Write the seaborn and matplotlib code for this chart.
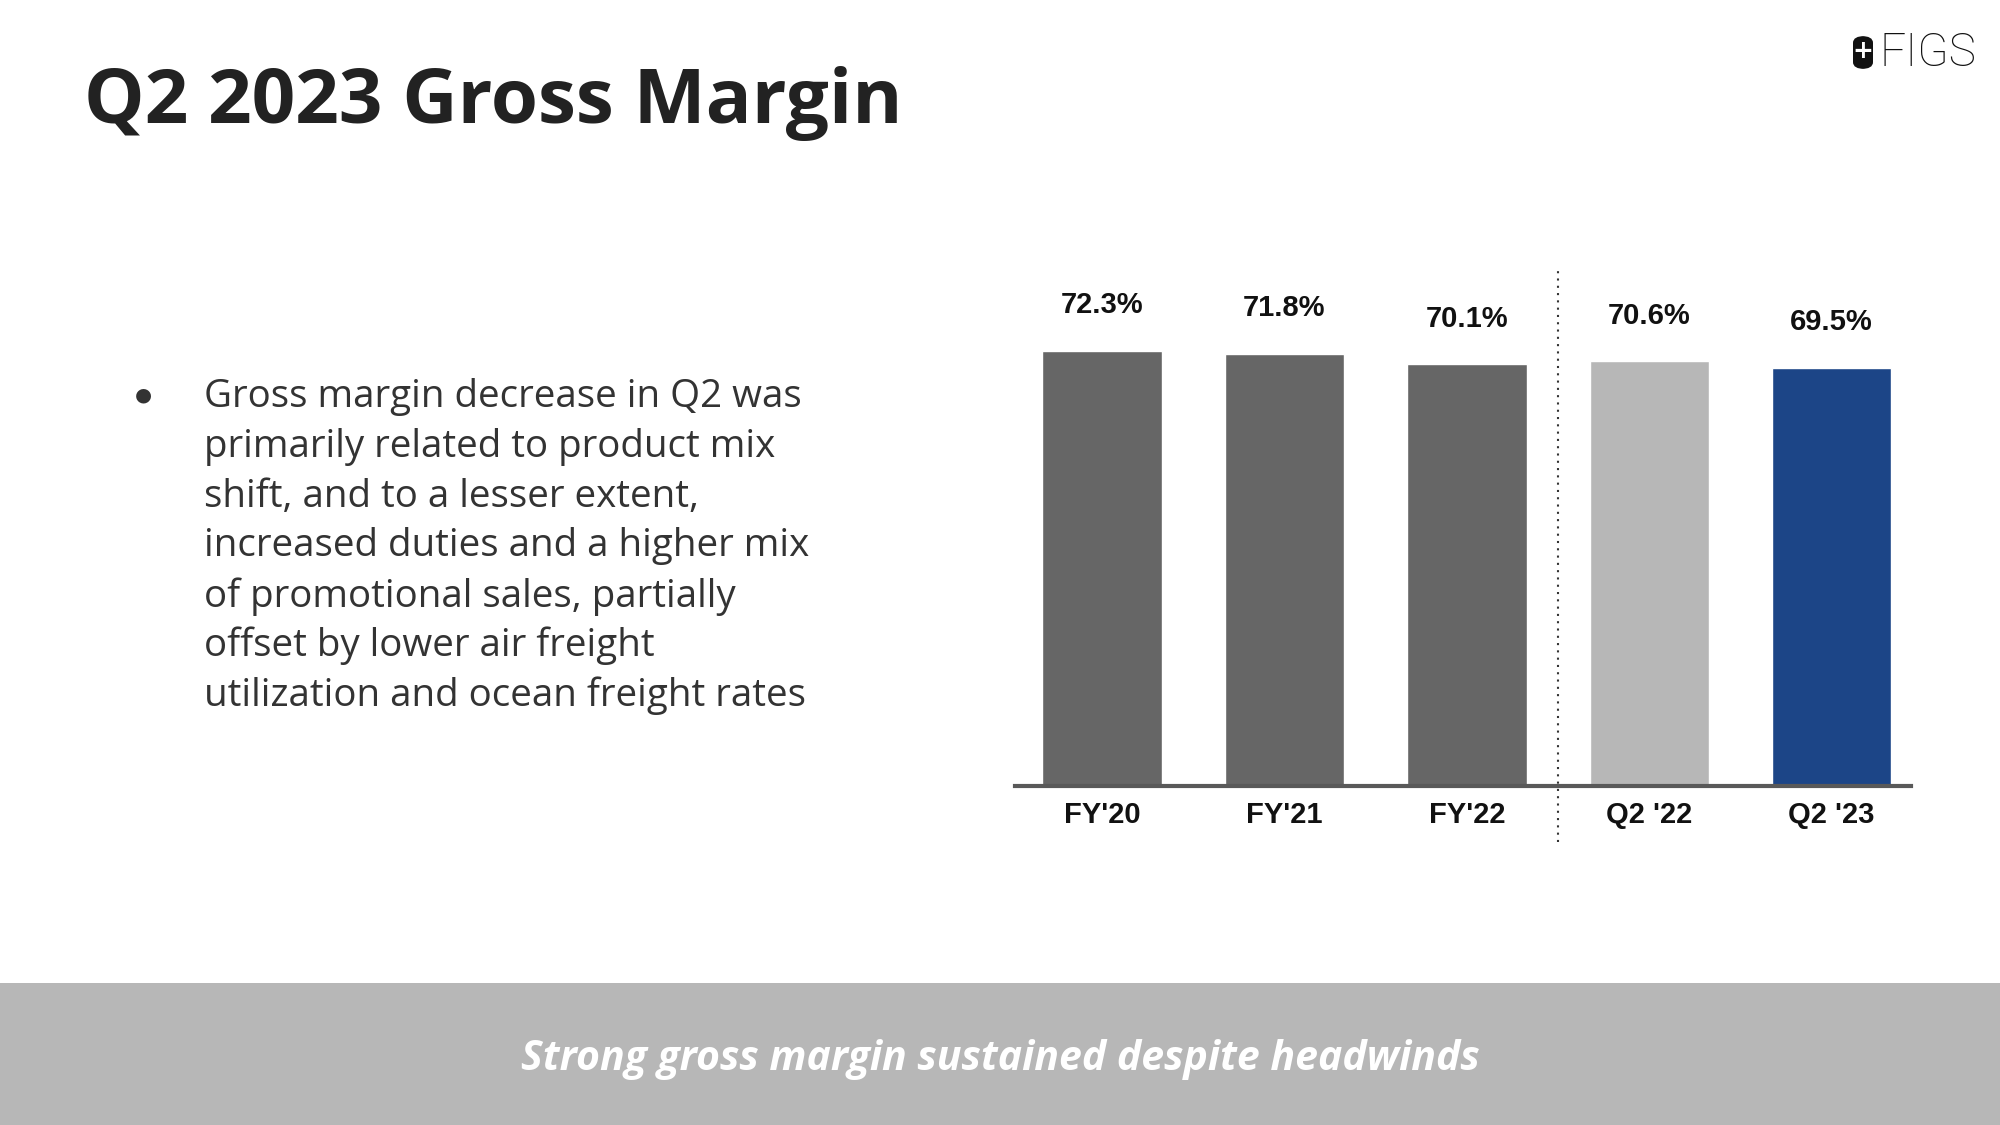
import numpy as np
import pandas as pd
import seaborn as sns
import matplotlib.pyplot as plt
from matplotlib.patches import Rectangle, FancyBboxPatch

######################### Data ###########################
categories = ["FY'20", "FY'21", "FY'22", "Q2 '22", "Q2 '23"]
margins = [72.3, 71.8, 70.1, 70.6, 69.5]
bar_colors = ["#666666", "#666666", "#666666", "#b7b7b7", "#1c4587"]

title = "Q2 2023 Gross Margin"
bullet_lines = [
    "Gross margin decrease in Q2 was",
    "primarily related to product mix",
    "shift, and to a lesser extent,",
    "increased duties and a higher mix",
    "of promotional sales, partially",
    "offset by lower air freight",
    "utilization and ocean freight rates",
]
footer = "Strong gross margin sustained despite headwinds"
##########################################################

sns.set_style("white")
plt.rcParams['font.family'] = ['Liberation Sans', 'DejaVu Sans']

df = pd.DataFrame({"period": categories, "margin": margins})

fig = plt.figure(figsize=(20, 11.25), dpi=100)
ax = fig.add_axes([0.5077, 0.3013, 0.4477, 0.5347])

sns.barplot(
    data=df,
    x="period",
    y="margin",
    hue="period",
    palette=bar_colors,
    width=0.655,
    legend=False,
    saturation=1,
    ax=ax,
)

ax.set_ylim(0, 100)
ax.set_xlim(-0.475, 4.434)
ax.set_xlabel("")
ax.set_ylabel("")
ax.set_yticks([])
for side in ["left", "right", "top"]:
    ax.spines[side].set_visible(False)
ax.spines["bottom"].set_color("#595959")
ax.spines["bottom"].set_linewidth(3)
ax.tick_params(axis="x", length=0, pad=11)
for lbl in ax.get_xticklabels():
    lbl.set_fontsize(21)
    lbl.set_fontweight("bold")
    lbl.set_color("#111111")

# value labels above bars
for i, v in enumerate(margins):
    ax.text(i, v + 7.6, f"{v:.1f}%", ha="center", va="center",
            fontsize=21, fontweight="bold", color="#111111")

# dotted separator between annual and quarterly
ax.plot([2.5, 2.5], [-9.3, 85.7], linestyle=(0, (1, 2.5)), color="#333333",
        linewidth=1.5, clip_on=False)

# title
fig.text(0.042, 1 - 103 / 1125, title, fontsize=55, fontweight="bold", color="#222222",
         family=["Open Sans", "DejaVu Sans"], ha="left", va="center")

# bullet text
fig.text(143 / 2000, 1 - 395 / 1125, "\u25cf", fontsize=14, color="#333333",
         ha="center", va="center", family=["DejaVu Sans"])
for k, line in enumerate(bullet_lines):
    fig.text(204 / 2000, 1 - (397 + k * 49.8) / 1125, line, fontsize=27.7,
             color="#333333", family=["Open Sans", "DejaVu Sans"],
             ha="left", va="center")

# footer band
fig.patches.append(Rectangle((0, 0), 1, 0.1262, transform=fig.transFigure,
                             facecolor="#b7b7b7", edgecolor="none", zorder=0))
fig.text(0.5, 1 - 1059 / 1125, footer, fontsize=29.5, fontweight="bold", style="italic",
         color="white", family=["Open Sans", "DejaVu Sans"],
         ha="center", va="center")

# logo
fig.patches.append(FancyBboxPatch((1853 / 2000, 1 - 69 / 1125), 20 / 2000, 33 / 1125,
                                  boxstyle="round,pad=0,rounding_size=0.006",
                                  transform=fig.transFigure, facecolor="#111111",
                                  edgecolor="none"))
fig.text(1863 / 2000, 1 - 51 / 1125, "+", fontsize=18, fontweight="bold",
         color="white", ha="center", va="center", family=["DejaVu Sans"])
fig.text(1879 / 2000, 1 - 53 / 1125, "FIGS", fontsize=33, fontweight="light",
         color="#111111", family=["Roboto", "DejaVu Sans"], ha="left", va="center")

fig.savefig("out.png", dpi=100)
